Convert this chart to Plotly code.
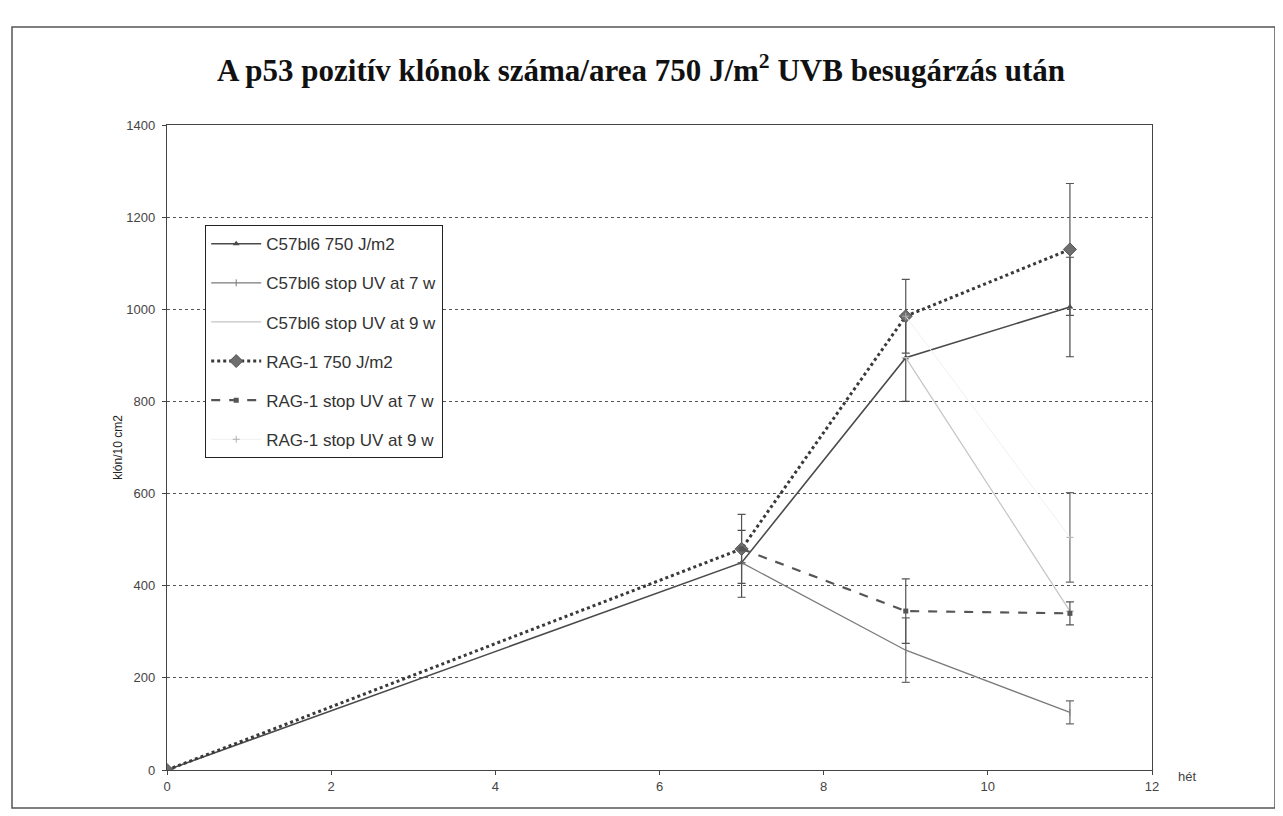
import plotly.graph_objects as go

# ---- data ----
weeks_full = [0, 7, 9, 11]
c57_750 = [0, 450, 895, 1005]
c57_750_err_plus = [0, 70, 95, 108]
c57_750_err_minus = [0, 75, 95, 108]

c57_stop7_x = [7, 9, 11]
c57_stop7 = [450, 260, 125]
c57_stop7_err = [0, 70, 25]

c57_stop9_x = [9, 11]
c57_stop9 = [895, 345]
c57_stop9_err = [0, 0]

rag_750 = [0, 480, 985, 1130]
rag_750_err = [0, 75, 80, 143]

rag_stop7_x = [7, 9, 11]
rag_stop7 = [480, 345, 340]
rag_stop7_err = [0, 70, 25]

rag_stop9_x = [9, 11]
rag_stop9 = [985, 505]
rag_stop9_err = [0, 97]

names = ["C57bl6 750 J/m2", "C57bl6 stop UV at 7 w", "C57bl6 stop UV at 9 w",
         "RAG-1 750 J/m2", "RAG-1 stop UV at 7 w", "RAG-1 stop UV at 9 w"]

x_ticks = [0, 2, 4, 6, 8, 10, 12]
y_ticks = [0, 200, 400, 600, 800, 1000, 1200, 1400]

title_text = "<b>A p53 pozitív klónok száma/area 750 J/m<sup>2</sup> UVB besugárzás után</b>"
y_title = "klón/10 cm2"
x_unit = "hét"

fig = go.Figure()

def err(arr, color, arrminus=None):
    d = dict(type="data", array=arr, color=color, thickness=1.2, width=4, visible=True)
    if arrminus is not None:
        d["arrayminus"] = arrminus
    return d

fig.add_trace(go.Scatter(
    x=weeks_full, y=c57_750, name=names[0], legendgroup="a",
    mode="lines+markers", line=dict(color="#4a4a4a", width=1.6),
    marker=dict(symbol="triangle-up", size=6, color="#4a4a4a"),
    error_y=err(c57_750_err_plus, "#4a4a4a", c57_750_err_minus)))

fig.add_trace(go.Scatter(
    x=c57_stop7_x, y=c57_stop7, name=names[1], legendgroup="b",
    mode="lines+markers", line=dict(color="#7a7a7a", width=1.3),
    marker=dict(symbol="line-ns-open", size=5, color="#7a7a7a"),
    error_y=err(c57_stop7_err, "#6a6a6a")))

fig.add_trace(go.Scatter(
    x=c57_stop9_x, y=c57_stop9, name=names[2], legendgroup="c",
    mode="lines", line=dict(color="#c4c4c4", width=1.2),
    error_y=err(c57_stop9_err, "#c4c4c4")))

fig.add_trace(go.Scatter(
    x=weeks_full, y=rag_750, name=names[3], legendgroup="d",
    mode="lines+markers", line=dict(color="#3a3a3a", width=3, dash="dot"),
    marker=dict(symbol="diamond", size=10, color="#6e6e6e", line=dict(color="#555", width=1)),
    error_y=err(rag_750_err, "#555555")))

fig.add_trace(go.Scatter(
    x=rag_stop7_x, y=rag_stop7, name=names[4], legendgroup="e",
    mode="lines+markers", line=dict(color="#555555", width=2.2, dash="dash"),
    marker=dict(symbol="square", size=5, color="#555555"),
    error_y=err(rag_stop7_err, "#555555")))

fig.add_trace(go.Scatter(
    x=rag_stop9_x, y=rag_stop9, name=names[5], legendgroup="f",
    mode="lines+markers", line=dict(color="#f0f0f0", width=1),
    marker=dict(symbol="cross-thin-open", size=5, color="#b0b0b0"),
    error_y=err(rag_stop9_err, "#6a6a6a")))

OFF = 8  # page body margin
W, H = 1275, 808
L, R, T, B = 167 - OFF, 1152 - OFF, 125 - OFF, 770 - OFF
pw, ph = R - L, B - T

def px(xp):
    return (xp - OFF - L) / pw

def py(yp):
    return (B - (yp - OFF)) / ph

fig.update_layout(
    width=W, height=H,
    margin=dict(l=L, r=W - R, t=T, b=H - B, pad=0),
    paper_bgcolor="white", plot_bgcolor="white",
    font=dict(family="Liberation Sans, Arial, sans-serif", color="#333", size=12),
    title=dict(text=title_text, x=px(641), xanchor="center", xref="paper",
               y=1 - (70 - OFF) / H, yanchor="middle",
               font=dict(family="Liberation Serif, Times New Roman, serif", size=31, color="#111")),
    showlegend=True,
    legend=dict(x=px(205), y=py(225), xanchor="left", yanchor="top",
                bgcolor="white", bordercolor="#222", borderwidth=1.2,
                font=dict(size=17, color="#333"), tracegroupgap=14,
                itemwidth=50),
    xaxis=dict(range=[0, 12], tickvals=x_ticks, showgrid=False, zeroline=False,
               showline=True, linecolor="#444", linewidth=1.3, mirror=True,
               ticks="outside", ticklen=4, tickcolor="#444",
               tickfont=dict(size=13, color="#444")),
    yaxis=dict(range=[0, 1400], tickvals=y_ticks, showgrid=True, gridcolor="#555",
               griddash="dot", gridwidth=1, zeroline=False,
               showline=True, linecolor="#444", linewidth=1.3, mirror=True,
               ticks="outside", ticklen=4, tickcolor="#444", ticklabelstandoff=4,
               tickfont=dict(size=13, color="#444"),
               title=dict(text=y_title, standoff=1, font=dict(size=12, color="#222"))),
)

fig.add_annotation(text=x_unit, xref="paper", yref="paper", x=px(1176), y=py(776),
                   xanchor="left", yanchor="middle", showarrow=False,
                   font=dict(size=13, color="#444"))

# outer chart frame
fig.add_shape(type="rect", xref="paper", yref="paper",
              x0=px(12), x1=px(1275), y0=py(808), y1=py(27),
              line=dict(color="#555", width=1.5), layer="below")

fig.write_html("out.html")
